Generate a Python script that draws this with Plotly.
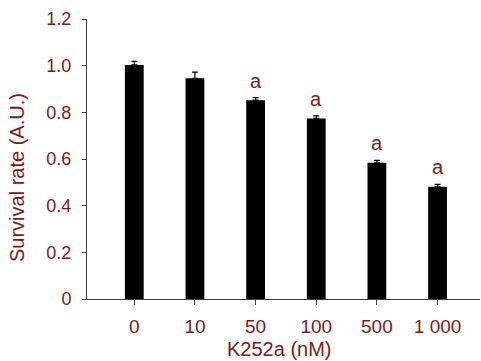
import plotly.graph_objects as go

categories = ["0", "10", "50", "100", "500", "1 000"]
survival = [1.003, 0.946, 0.852, 0.774, 0.584, 0.481]
errors = [0.015, 0.026, 0.011, 0.011, 0.010, 0.010]
sig_labels = ["", "", "a", "a", "a", "a"]
y_ticks = [0, 0.2, 0.4, 0.6, 0.8, 1.0, 1.2]
y_ticktext = ["0", "0.2", "0.4", "0.6", "0.8", "1.0", "1.2"]

text_color = "#7b1a1c"
font_family = "Liberation Sans, Arial, sans-serif"

fig = go.Figure()
fig.add_trace(go.Bar(
    x=list(range(len(categories))),
    y=survival,
    width=0.31,
    marker=dict(color="black", line=dict(width=0)),
    error_y=dict(type="data", symmetric=False, array=errors,
                 arrayminus=[0] * len(errors), color="black",
                 thickness=1.2, width=3),
))

for i, (lab, v, e) in enumerate(zip(sig_labels, survival, errors)):
    if lab:
        fig.add_annotation(x=i, y=v + e, text=lab, showarrow=False,
                           yanchor="middle", yshift=17,
                           font=dict(size=20, color=text_color, family=font_family))

# axis titles
fig.add_annotation(xref="paper", yref="paper", x=0, y=0.432, xshift=-70,
                   text="Survival rate (A.U.)", textangle=-90, showarrow=False,
                   xanchor="center", yanchor="middle",
                   font=dict(size=20, color=text_color, family=font_family))
fig.add_annotation(xref="paper", yref="paper", x=0.491, y=0, yshift=-50,
                   text="K252a (nM)", showarrow=False,
                   xanchor="center", yanchor="middle",
                   font=dict(size=20, color=text_color, family=font_family))

fig.update_layout(
    width=481, height=361,
    margin=dict(l=87, r=1, t=19, b=62, autoexpand=False),
    plot_bgcolor="white", paper_bgcolor="white",
    showlegend=False,
    font=dict(family=font_family, size=18, color=text_color),
    xaxis=dict(
        range=[-0.78, 5.70],
        tickvals=list(range(len(categories))),
        ticktext=categories,
        showline=True, linecolor="#404040", linewidth=1,
        ticks="outside", ticklen=5, tickcolor="#404040",
        showgrid=False, zeroline=False, automargin=False,
        ticklabelstandoff=5,
        tickfont=dict(size=19, color=text_color),
    ),
    yaxis=dict(
        range=[0, 1.2],
        tickvals=y_ticks,
        ticktext=y_ticktext,
        showline=True, linecolor="#404040", linewidth=1,
        ticks="outside", ticklen=4, tickcolor="#404040",
        showgrid=False, zeroline=False, automargin=False,
        ticklabelstandoff=7,
        tickfont=dict(size=18, color=text_color),
    ),
)

fig.write_html("out.html", config={"displayModeBar": False},
               post_script="document.body.style.margin='0';document.body.style.padding='0';")
